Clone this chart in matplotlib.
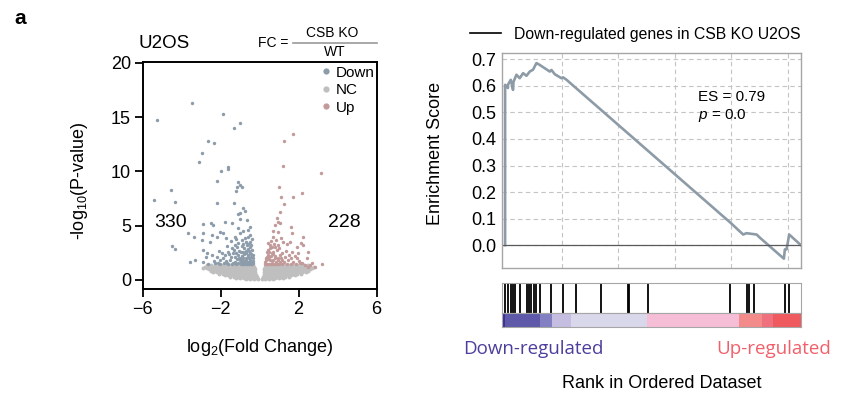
import matplotlib
matplotlib.use("Agg")
import matplotlib.pyplot as plt
from matplotlib.lines import Line2D

plt.rcParams['font.family'] = ['Liberation Sans', 'DejaVu Sans']
plt.rcParams['mathtext.fontset'] = 'custom'
plt.rcParams['mathtext.rm'] = 'Liberation Sans'
plt.rcParams['mathtext.it'] = 'Liberation Sans:italic'

# ---- volcano data (log2 FC, -log10 p) ----
down_x = [-3.49, -5.28, -1.90, -1.30, -1.01, -2.64, -2.34, -2.97, -3.11, -1.97, -1.61, -1.61,
          -2.21, -1.13, -1.01, -0.92, -1.18, -1.21, -4.57, -5.42, -4.34, -2.17, -1.30, -0.84,
          -0.75, -1.01, -1.10, -2.89, -2.50, -2.38, -1.78, -1.44, -1.01, -0.67, -0.50, -0.58,
          -0.84, -1.10, -1.01, -1.27, -2.04, -1.87, -2.21, -2.46, -2.89, -3.66, -3.38, -2.98,
          -2.55, -4.51, -4.34, -2.89, -2.72, -3.55, -3.30, -2.89, -2.75, -2.46, -2.21, -2.04,
          -1.87, -1.78, -1.61, -1.44, -1.27, -1.10, -0.92, -0.75, -0.67, -0.50, -0.41, -0.58,
          -0.84, -1.10, -1.35, -1.52, -1.27, -1.01, -0.75, -0.50, -0.33, -2.63, -2.29, -1.69,
          -2.04,
          -0.95, -0.85, -0.75, -0.65, -0.55, -0.45, -0.38, -0.32, -0.90, -0.80, -0.70, -0.60,
          -0.45, -0.36, -0.95, -0.85, -0.72, -0.62, -0.52, -0.42, -0.36, -0.90, -0.78, -0.68,
          -0.50, -0.45, -0.95, -0.70, -0.62, -0.55, -0.48, -0.80, -0.90, -0.58, -0.45, -0.70,
          -0.85, -0.62, -0.50, -0.40, -1.20, -1.35, -1.15, -1.45, -1.25, -1.05, -1.20, -1.05,
          -1.30, -1.15, -1.55, -1.70, -1.85, -1.60, -1.40, -1.10, -0.98, -0.88, -2.15, -2.35,
          -1.95, -2.10, -1.65, -1.45, -1.20, -1.70]
down_y = [16.31, 14.72, 15.30, 13.96, 14.44, 12.79, 12.63, 11.71, 10.83, 10.06, 10.42, 10.20,
          9.14, 8.99, 8.74, 8.59, 8.52, 8.19, 8.28, 7.36, 7.17, 7.08, 7.11, 6.59,
          6.35, 6.13, 6.04, 5.18, 5.21, 5.06, 5.33, 5.21, 5.58, 5.52, 4.91, 4.60,
          4.54, 4.75, 4.29, 3.99, 4.45, 4.29, 3.99, 4.14, 4.29, 4.29, 3.92, 3.68,
          3.53, 3.13, 2.82, 2.76, 2.51, 1.65, 1.88, 1.68, 2.08, 2.30, 2.08, 1.84,
          1.99, 2.30, 2.60, 2.91, 3.22, 3.43, 3.68, 3.83, 3.22, 3.53, 2.76, 2.30,
          2.60, 2.30, 2.45, 1.84, 1.68, 1.84, 1.68, 1.84, 1.99, 1.47, 1.53, 1.53,
          1.47,
          1.45, 1.50, 1.45, 1.50, 1.45, 1.50, 1.45, 1.55, 1.70, 1.75, 1.80, 1.70,
          1.70, 1.75, 2.00, 2.05, 2.00, 2.10, 2.00, 2.10, 2.30, 2.25, 2.35, 2.45,
          2.50, 2.35, 2.60, 2.70, 2.85, 2.65, 3.00, 2.95, 3.10, 3.30, 3.25, 3.50,
          3.35, 3.95, 4.15, 3.80, 1.50, 1.60, 1.90, 2.10, 2.15, 2.05, 2.50, 2.70,
          2.80, 3.00, 2.35, 1.75, 1.55, 1.45, 1.45, 1.55, 1.65, 1.90, 1.60, 1.75,
          2.50, 2.70, 3.10, 3.60, 3.75, 3.85]

up_x = [1.23, 1.71, 1.19, 3.14, 1.01, 1.09, 1.69, 2.20, 1.26, 1.04, 0.87, 0.92, 0.78, 1.04,
        0.70, 0.96, 1.64, 0.67, 0.84, 1.55, 1.21, 1.38, 1.90, 2.24, 1.98, 1.64, 2.41, 2.67,
        3.18, 2.84, 0.53, 0.44, 0.61, 0.87, 1.04, 1.30, 1.47, 1.73, 1.90, 2.07, 0.36, 0.27,
        0.53, 0.78, 1.04, 1.38, 2.32, 2.49, 1.61, 2.24, 2.12, 2.49, 2.58,
        0.30, 0.40, 0.50, 0.60, 0.70, 0.80, 0.90, 1.00, 1.15, 0.35, 0.45, 0.62, 0.70, 0.85,
        0.95, 1.15, 1.25, 0.32, 0.42, 0.50, 0.60, 0.70, 0.80, 0.92, 1.12, 0.38, 0.50, 0.70,
        0.55, 0.65, 0.75, 0.45, 0.60, 0.80, 1.00, 1.15, 1.35, 1.50, 1.60, 1.80, 2.00, 2.20,
        1.60, 1.85, 0.95, 1.10]
up_y = [12.82, 13.40, 10.52, 9.84, 8.52, 7.67, 7.67, 7.97, 6.99, 6.29, 5.67, 5.37, 5.06, 5.21,
        4.51, 4.45, 4.29, 3.99, 3.68, 3.53, 3.53, 3.31, 3.07, 3.22, 2.45, 2.60, 1.99, 1.53,
        1.47, 1.22, 3.22, 2.76, 2.45, 2.76, 2.30, 2.15, 1.84, 1.68, 1.99, 1.53, 2.15, 1.68,
        1.84, 1.99, 1.68, 1.47, 1.38, 1.22, 4.85, 3.98, 3.38, 2.55, 1.38,
        1.45, 1.50, 1.45, 1.50, 1.45, 1.50, 1.45, 1.50, 1.45, 1.80, 1.90, 1.75, 1.85, 1.70,
        1.80, 1.85, 1.65, 2.00, 2.30, 2.10, 2.20, 2.35, 2.20, 2.05, 2.00, 2.55, 2.60, 2.60,
        2.90, 3.05, 3.30, 3.45, 3.60, 3.00, 2.90, 2.50, 2.70, 2.30, 2.05, 2.25, 1.75, 1.60,
        1.45, 1.45, 3.20, 3.90]

# non-significant genes, read row by row from the grey mass
nc_row_y = [0.06, 0.19, 0.32, 0.45, 0.58, 0.71, 0.84, 0.97, 1.10, 1.23, 1.36]
nc_row_x = [
    [-0.7, -0.5, -0.3, -0.1, 0.1, 0.3, 0.5, 0.7],
    [-1.2, -1.0, -0.8, -0.6, -0.4, -0.2, 0.2, 0.4, 0.6, 0.8, 1.0, 1.2],
    [-1.5, -1.3, -1.1, -0.9, -0.7, -0.5, -0.3, -0.15, 0.15, 0.3, 0.5, 0.7, 0.9, 1.1, 1.3, 1.5],
    [-1.8, -1.6, -1.4, -1.2, -1.0, -0.8, -0.6, -0.4, -0.2, 0.2, 0.4, 0.6, 0.8, 1.0, 1.2, 1.4,
     1.6, 1.8],
    [-2.1, -1.9, -1.7, -1.5, -1.3, -1.1, -0.9, -0.7, -0.5, -0.3, 0.3, 0.5, 0.7, 0.9, 1.1, 1.3,
     1.5, 1.7, 1.9, 2.1],
    [-2.4, -2.2, -2.0, -1.8, -1.6, -1.4, -1.2, -1.0, -0.8, -0.6, -0.4, -0.22, 0.22, 0.4, 0.6,
     0.8, 1.0, 1.2, 1.4, 1.6, 1.8, 2.0, 2.2, 2.4],
    [-2.5, -2.3, -2.1, -1.9, -1.7, -1.5, -1.3, -1.1, -0.9, -0.7, -0.5, -0.3, 0.3, 0.5, 0.7,
     0.9, 1.1, 1.3, 1.5, 1.7, 1.9, 2.1, 2.3, 2.5],
    [-2.6, -2.4, -2.2, -2.0, -1.8, -1.6, -1.4, -1.2, -1.0, -0.8, -0.6, -0.4, -0.25, 0.25, 0.4,
     0.6, 0.8, 1.0, 1.2, 1.4, 1.6, 1.8, 2.0, 2.2, 2.4, 2.6],
    [-2.9, -2.7, -2.5, -2.3, -2.1, -1.9, -1.7, -1.5, -1.3, -1.1, -0.9, -0.7, -0.5, -0.3, 0.3,
     0.5, 0.7, 0.9, 1.1, 1.3, 1.5, 1.7, 1.9, 2.1, 2.3, 2.5, 2.7],
    [-2.8, -2.6, -2.4, -2.2, -2.0, -1.8, -1.6, -1.4, -1.2, -1.0, -0.8, -0.6, -0.4, -0.28, 0.28,
     0.4, 0.6, 0.8, 1.0, 1.2, 1.4, 1.6, 1.8, 2.0, 2.2, 2.4, 2.6, 2.8],
    [-2.7, -2.5, -2.3, -2.1, -1.9, -1.7, -1.5, -1.3, -1.1, -0.9, -0.7, -0.5, -0.32, 0.32, 0.5,
     0.7, 0.9, 1.1, 1.3, 1.5, 1.7, 1.9, 2.1, 2.3, 2.5],
]
n_down = "330"
n_up = "228"

# ---- GSEA data ----
es_rank = [0, 0, 250, 260, 500, 700, 740, 1000, 1290, 1590, 1890, 2180, 2470, 2770, 3060,
           3950, 4100, 4390, 4980, 5130, 5430, 19940, 21050, 21350, 22240, 22530, 24650,
           24740, 24890, 25120, 26155]
es_score = [0.0, 0.604, 0.592, 0.605, 0.623, 0.585, 0.615, 0.642, 0.629, 0.648, 0.638, 0.654,
            0.661, 0.686, 0.679, 0.654, 0.660, 0.644, 0.629, 0.632, 0.623, 0.084, 0.040,
            0.045, 0.040, 0.028, -0.051, -0.016, -0.016, 0.040, 0.0]
hit_rank = [27, 257, 496, 735, 912, 1293, 1912, 2116, 2328, 2558, 2735, 3124, 4097, 5124,
            6309, 8521, 10875, 10937, 12645, 19874, 21351, 21555, 22024, 24740, 25121]
band_edges = [-300, 30, 3124, 4150, 5867, 12591, 20697, 22678, 23652, 26200]
band_colors = ['#3d3199', '#5e5aa9', '#8280c3', '#c5bee0', '#d9d7ea',
               '#f6bdd6', '#f38b8b', '#f0707d', '#ee5a5d']

fig = plt.figure(figsize=(8.55, 3.96), dpi=100)

# ---------------- volcano ----------------
vol = fig.add_axes([0.1669, 0.2694, 0.2735, 0.5733])
nc_x = [x for row in nc_row_x for x in row]
nc_y = [y for y, row in zip(nc_row_y, nc_row_x) for _ in row]
vol.scatter(nc_x, nc_y, s=8, color='#bfbfbf', linewidths=0)
vol.scatter(down_x, down_y, s=6, color='#8c9cab', linewidths=0)
vol.scatter(up_x, up_y, s=6, color='#c29a99', linewidths=0)
vol.set_xlim(-6, 6)
vol.set_ylim(-0.86, 20.05)
vol.set_xticks([-6, -2, 2, 6])
vol.set_yticks([0, 5, 10, 15, 20])
vol.tick_params(labelsize=13, length=5.5, width=1.3, pad=3)
for sp in vol.spines.values():
    sp.set_linewidth(1.4)
vol.text(-4.56, 5.27, n_down, fontsize=14, ha='center', va='center')
vol.text(4.33, 5.27, n_up, fontsize=14, ha='center', va='center')

handles = [Line2D([], [], ls='none', marker='o', ms=4.5, mec='none', color=c)
           for c in ['#8c9cab', '#bfbfbf', '#c29a99']]
vol.legend(handles, ['Down', 'NC', 'Up'], loc='upper right', bbox_to_anchor=(1.03, 1.025),
           frameon=False, fontsize=11, handlelength=0.6, handletextpad=0.3,
           labelspacing=0.22, borderpad=0.1)

fig.text(80 / 855, 1 - 181 / 396, r'-log$_{10}$(P-value)', rotation=90,
         ha='center', va='center', fontsize=13)
fig.text(260 / 855, 1 - 347 / 396, r'log$_2$(Fold Change)', ha='center', va='center',
         fontsize=13)
fig.text(138 / 855, 1 - 43 / 396, 'U2OS', ha='left', va='center', fontsize=13.5)
fig.text(273 / 855, 1 - 43 / 396, 'FC =', ha='center', va='center', fontsize=10)
fig.text(332 / 855, 1 - 33 / 396, 'CSB KO', ha='center', va='center', fontsize=10)
fig.text(335 / 855, 1 - 52 / 396, 'WT', ha='center', va='center', fontsize=10)
fig.add_artist(Line2D([293 / 855, 377 / 855], [1 - 42.7 / 396, 1 - 42.7 / 396],
                      color='#9a9a9a', lw=1.2))
fig.text(20 / 855, 1 - 18 / 396, 'a', ha='center', va='center', fontsize=15,
         fontweight='bold')

# ---------------- GSEA ----------------
gx = [0.5868, 0.3505]
gs = fig.add_axes([gx[0], 0.324, gx[1], 0.5429])
gs.plot(es_rank, es_score, color='#8d9ba7', lw=1.9)
gs.axhline(0, color='#5a5a5a', lw=0.9)
gs.set_xlim(-300, 26200)
gs.set_ylim(-0.085, 0.725)
gs.set_xticks([5000, 10000, 15000, 20000, 25000])
gs.set_xticklabels([])
gs.set_yticks([0, 0.1, 0.2, 0.3, 0.4, 0.5, 0.6, 0.7])
gs.set_yticklabels(['0.0', '0.1', '0.2', '0.3', '0.4', '0.5', '0.6', '0.7'])
gs.tick_params(length=0, labelsize=13, pad=4)
gs.grid(True, ls=(0, (4, 3)), color='#c4c4c4', lw=0.8)
for sp in gs.spines.values():
    sp.set_color('#a6a6a6')
    sp.set_linewidth(1.0)
gs.text(17050, 0.558, 'ES = 0.79', fontsize=11, va='center', ha='left')
gs.text(17050, 0.487, '$p$ = 0.0', fontsize=11, va='center', ha='left')

fig.legend([Line2D([], [], color='black', lw=1.2)], ['Down-regulated genes in CSB KO U2OS'],
           loc='center left', bbox_to_anchor=(470 / 855, 1 - 34 / 396), frameon=False,
           fontsize=11.3, handlelength=2.0, handletextpad=0.8, borderpad=0, borderaxespad=0)

fig.text(435 / 855, 1 - 153 / 396, 'Enrichment Score', rotation=90, ha='center',
         va='center', fontsize=13)

bc = fig.add_axes([gx[0], 0.2104, gx[1], 0.0742])
bc.vlines(hit_rank, 0, 1, color='black', lw=1.3)
bc.set_xlim(-300, 26200)
bc.set_ylim(0, 1)
bc.set_xticks([])
bc.set_yticks([])
for sp in bc.spines.values():
    sp.set_color('#a6a6a6')

cb = fig.add_axes([gx[0], 0.175, gx[1], 0.0354])
for lo, hi, col in zip(band_edges[:-1], band_edges[1:], band_colors):
    cb.axvspan(lo, hi, color=col, lw=0)
cb.set_xlim(-300, 26200)
cb.set_xticks([])
cb.set_yticks([])
for sp in cb.spines.values():
    sp.set_color('#a6a6a6')

fig.text(533 / 855, 1 - 349 / 396, 'Down-regulated', ha='center', va='center',
         fontsize=13.5, color='#4b3f9e', family=['Open Sans', 'DejaVu Sans'])
fig.text(774 / 855, 1 - 349 / 396, 'Up-regulated', ha='center', va='center',
         fontsize=13.5, color='#f0606a', family=['Open Sans', 'DejaVu Sans'])
fig.text(662 / 855, 1 - 383 / 396, 'Rank in Ordered Dataset', ha='center', va='center',
         fontsize=13)

fig.savefig('out.png', dpi=100)
